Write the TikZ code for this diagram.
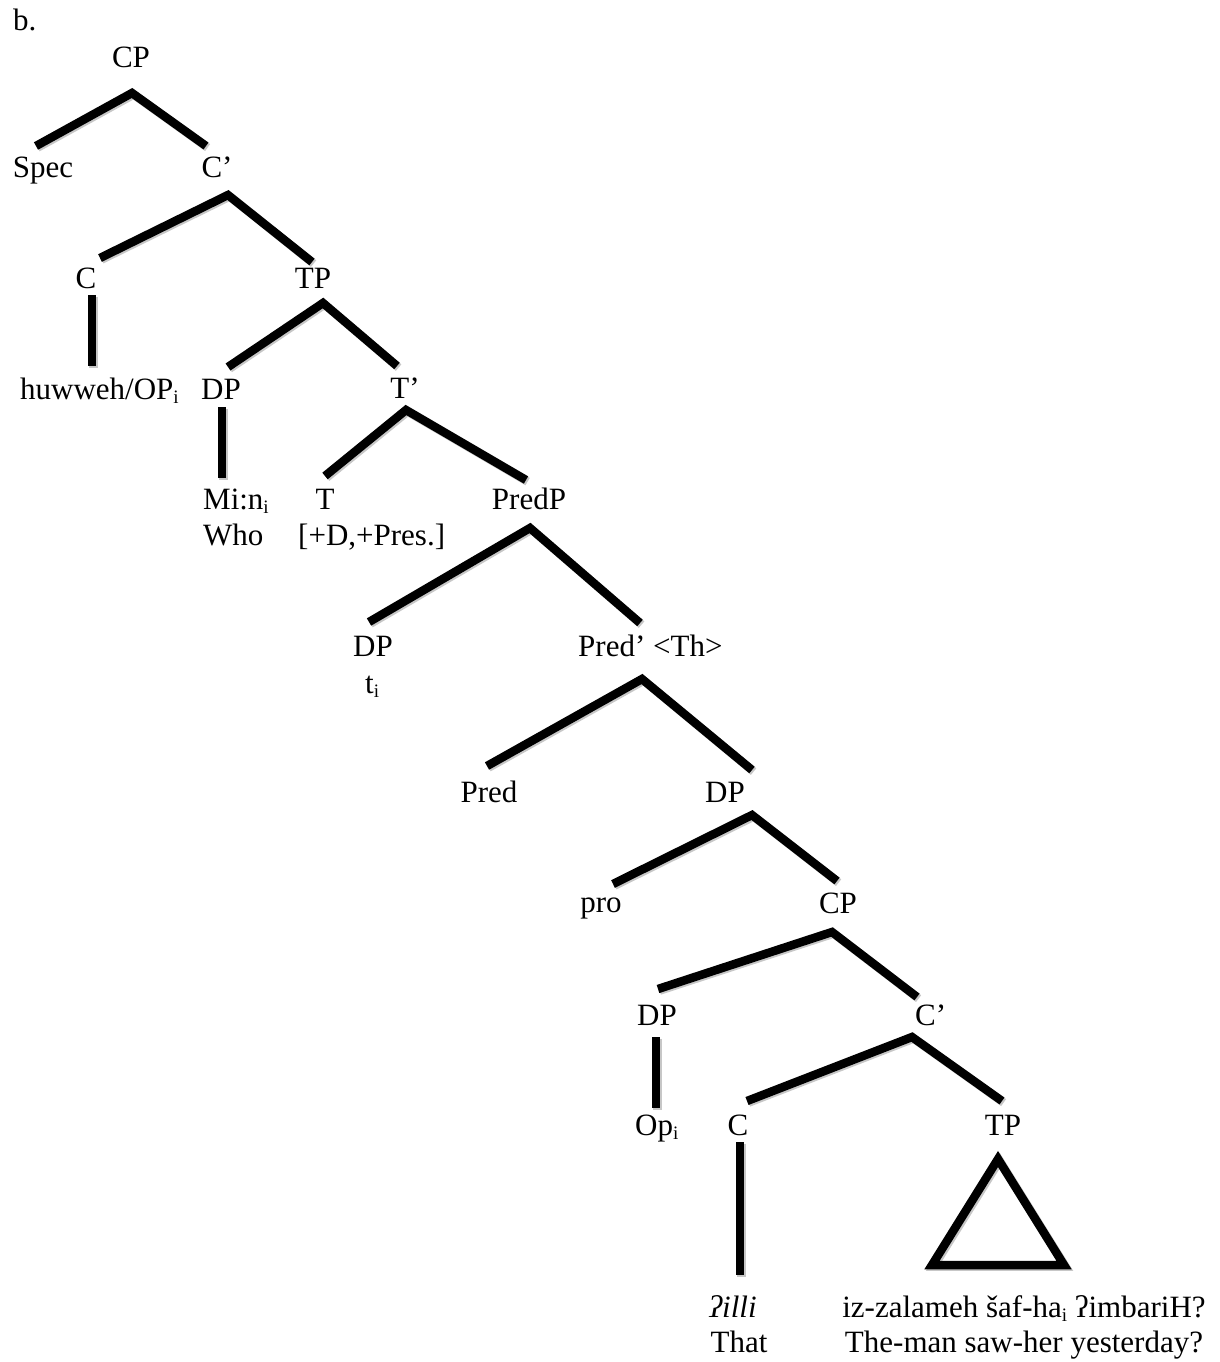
\documentclass[tikz,border=0pt]{standalone}
\usepackage{fontspec}
\setmainfont{Liberation Serif}
\newcommand\sbs[1]{\raisebox{-4pt}{\fontsize{19}{19}\selectfont #1}}
\begin{document}
\begin{tikzpicture}[x=1pt,y=-1pt,
  lbl/.style={inner sep=0pt, anchor=base, font=\fontsize{31}{36}\selectfont},
  lblw/.style={lbl, anchor=base west},
  br/.style={line width=8.5pt, line join=miter, miter limit=10,
    preaction={draw=black!22, line width=8.5pt, transform canvas={shift={(1.6pt,-1.6pt)}}}},
]
\useasboundingbox (0,0) rectangle (1219,1362);

% labels
\node[lblw] (b) at (13,31) {b.};
\node[lbl] (cp1) at (131,68) {CP};
\node[lbl] (spec) at (43,177) {Spec};
\node[lbl] (cb1) at (217,177) {C’};
\node[lbl] (c1) at (86,288) {C};
\node[lbl] (tp1) at (313,288) {TP};
\node[lblw] (huw) at (20,399) {huwweh/OP\sbs{i}};
\node[lbl] (dp1) at (221,399) {DP};
\node[lbl] (tb) at (405,398) {T’};
\node[lblw] (min) at (203,509) {Mi:n\sbs{i}};
\node[lblw] (who) at (203,545) {Who};
\node[lbl] (t) at (325,509) {T};
\node[lblw] (feat) at (298,545) {[+D,+Pres.]};
\node[lbl] (predp) at (529,509) {PredP};
\node[lbl] (dp2) at (373,656) {DP};
\node[lblw] (ti) at (365,693) {t\sbs{i}};
\node[lblw] (predb) at (578,656) {Pred’ <Th>};
\node[lbl] (pred) at (489,802) {Pred};
\node[lbl] (dp3) at (725,802) {DP};
\node[lbl] (pro) at (601,912) {pro};
\node[lbl] (cp2) at (838,913) {CP};
\node[lbl] (dp4) at (657,1025) {DP};
\node[lblw] (cb2) at (915,1025) {C’};
\node[lblw] (op) at (635,1135) {Op\sbs{i}};
\node[lbl] (c2) at (738,1135) {C};
\node[lbl] (tp2) at (1003,1135) {TP};
\node[lbl] (illi) at (733,1317) {\itshape ʔilli};
\node[lbl] (that) at (739,1352) {That};
\node[lbl] (iz) at (1024,1317) {iz-zalameh šaf-ha\sbs{i} ʔimbariH?};
\node[lbl] (man) at (1024,1352) {The-man saw-her yesterday?};

% branch points
\coordinate (a1) at (132,93);  \coordinate (a1l) at (36,146);  \coordinate (a1r) at (206,146);
\coordinate (a2) at (228,195); \coordinate (a2l) at (100,258); \coordinate (a2r) at (312,262);
\coordinate (v1t) at (92,295); \coordinate (v1b) at (92,366);
\coordinate (a3) at (323,303); \coordinate (a3l) at (228,367); \coordinate (a3r) at (397,366);
\coordinate (v2t) at (222,407); \coordinate (v2b) at (222,478);
\coordinate (a4) at (406,410); \coordinate (a4l) at (325,476); \coordinate (a4r) at (526,480);
\coordinate (a5) at (530,528); \coordinate (a5l) at (369,622); \coordinate (a5r) at (640,623);
\coordinate (a6) at (642,679); \coordinate (a6l) at (487,766); \coordinate (a6r) at (752,770);
\coordinate (a7) at (752,815); \coordinate (a7l) at (613,884); \coordinate (a7r) at (837,881);
\coordinate (a8) at (832,932); \coordinate (a8l) at (658,989); \coordinate (a8r) at (917,997);
\coordinate (v3t) at (656,1037); \coordinate (v3b) at (656,1108);
\coordinate (a9) at (912,1037); \coordinate (a9l) at (747,1101); \coordinate (a9r) at (1002,1101);
\coordinate (v4t) at (740,1142); \coordinate (v4b) at (740,1275);
\coordinate (tA) at (998,1159); \coordinate (tL) at (932,1265); \coordinate (tR) at (1064,1265);

\draw[br] (a1l) -- (a1) -- (a1r);
\draw[br] (a2l) -- (a2) -- (a2r);
\draw[br] (v1t) -- (v1b);
\draw[br] (a3l) -- (a3) -- (a3r);
\draw[br] (v2t) -- (v2b);
\draw[br] (a4l) -- (a4) -- (a4r);
\draw[br] (a5l) -- (a5) -- (a5r);
\draw[br] (a6l) -- (a6) -- (a6r);
\draw[br] (a7l) -- (a7) -- (a7r);
\draw[br] (a8l) -- (a8) -- (a8r);
\draw[br] (v3t) -- (v3b);
\draw[br] (a9l) -- (a9) -- (a9r);
\draw[br] (v4t) -- (v4b);
\draw[br] (tA) -- (tL) -- (tR) -- cycle;
\end{tikzpicture}
\end{document}
